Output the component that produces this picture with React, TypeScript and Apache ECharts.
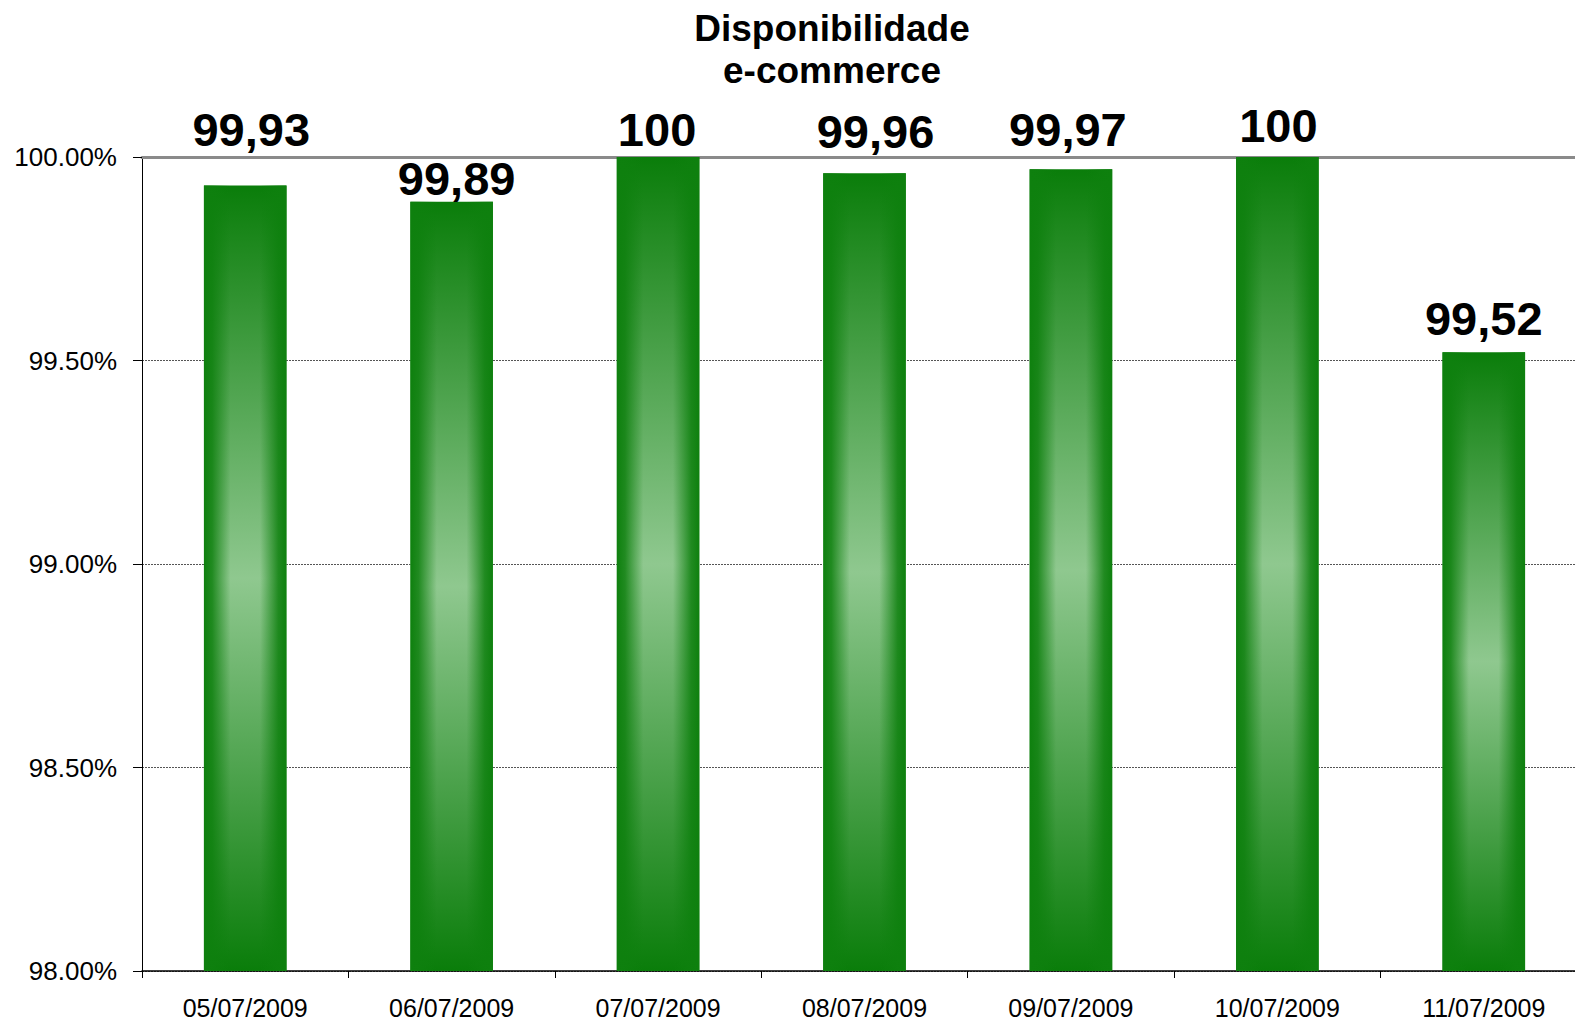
import React, { useEffect, useRef } from "react";
import * as echarts from "echarts";

const titleLines = ["Disponibilidade", "e-commerce"];
const categories = [
  "05/07/2009",
  "06/07/2009",
  "07/07/2009",
  "08/07/2009",
  "09/07/2009",
  "10/07/2009",
  "11/07/2009",
];
const values = [99.93, 99.89, 100, 99.96, 99.97, 100, 99.52];
const yMin = 98;
const yMax = 100;
const yInterval = 0.5;
// manual label placement (style only), [dx, dy] in pixels
const labelOffsets = [
  [6, -32],
  [5, 0],
  [-1, -4],
  [11, -18],
  [-3, -16],
  [1, -8],
  [0, -10],
];

const FONT = '"Liberation Sans", Arial, Helvetica, sans-serif';

export default function App() {
  const ref = useRef<HTMLDivElement>(null);

  useEffect(() => {
    if (!ref.current) return;
    const chart = echarts.init(ref.current, null, { renderer: "svg" });

    const baseGradient = new echarts.graphic.LinearGradient(0, 0, 0, 1, [
      { offset: 0, color: "#0a7d0a" },
      { offset: 0.5, color: "#8fc88f" },
      { offset: 1, color: "#0a7d0a" },
    ]);
    const edgeGradient = new echarts.graphic.LinearGradient(0, 0, 1, 0, [
      { offset: 0, color: "rgba(14,128,14,1)" },
      { offset: 0.1, color: "rgba(14,128,14,0.85)" },
      { offset: 0.32, color: "rgba(14,128,14,0)" },
      { offset: 0.68, color: "rgba(14,128,14,0)" },
      { offset: 0.9, color: "rgba(14,128,14,0.85)" },
      { offset: 1, color: "rgba(14,128,14,1)" },
    ]);

    const option = {
      animation: false,
      backgroundColor: "#ffffff",
      graphic: [
        {
          type: "text",
          x: 832,
          y: 7,
          style: {
            text: titleLines.join("\n"),
            font: `bold 37px ${FONT}`,
            fill: "#000",
            textAlign: "center",
            textVerticalAlign: "top",
            lineHeight: 42,
          },
        },
      ],
      grid: {
        left: 142,
        top: 157,
        width: 1445,
        height: 814,
        containLabel: false,
      },
      xAxis: [
        {
          type: "category",
          data: categories,
          position: "bottom",
          axisLine: { lineStyle: { color: "#000", width: 1.5 } },
          axisTick: { show: true, length: 7, lineStyle: { color: "#000" } },
          axisLabel: {
            color: "#000",
            fontFamily: FONT,
            fontSize: 25,
            lineHeight: 20,
            margin: 27,
          },
          splitLine: { show: false },
        },
        {
          type: "category",
          data: categories,
          position: "top",
          axisLine: { lineStyle: { color: "#8a8a8a", width: 3 } },
          axisTick: { show: false },
          axisLabel: { show: false },
          splitLine: { show: false },
        },
      ],
      yAxis: {
        type: "value",
        min: yMin,
        max: yMax,
        interval: yInterval,
        axisLine: { show: true, lineStyle: { color: "#000", width: 1 } },
        axisTick: { show: true, length: 9, lineStyle: { color: "#000" } },
        axisLabel: {
          color: "#000",
          fontFamily: FONT,
          fontSize: 26,
          margin: 25,
          formatter: (v: number) => v.toFixed(2) + "%",
        },
        splitLine: {
          show: true,
          lineStyle: { color: "#555", width: 1, type: [2, 1] },
        },
      },
      series: [
        {
          type: "bar",
          xAxisIndex: 0,
          barWidth: "40%",
          barGap: "-100%",
          itemStyle: { color: baseGradient },
          data: values.map((v, i) => ({
            value: v,
            label: { offset: labelOffsets[i] },
          })),
          label: {
            show: true,
            position: "top",
            distance: 0,
            color: "#000",
            fontFamily: FONT,
            fontWeight: "bold",
            fontSize: 47,
            lineHeight: 47,
            formatter: (p: any) => String(p.value).replace(".", ","),
          },
          z: 2,
        },
        {
          type: "bar",
          xAxisIndex: 0,
          barWidth: "40%",
          barGap: "-100%",
          silent: true,
          itemStyle: { color: edgeGradient },
          data: values,
          label: { show: false },
          z: 3,
        },
      ],
    };

    chart.setOption(option as any);
    return () => chart.dispose();
  }, []);

  return (
    <div
      style={{
        position: "fixed",
        left: 0,
        top: 0,
        width: 1575,
        height: 1024,
        overflow: "hidden",
        background: "#fff",
      }}
    >
      <div ref={ref} style={{ width: 1600, height: 1024 }} />
    </div>
  );
}
